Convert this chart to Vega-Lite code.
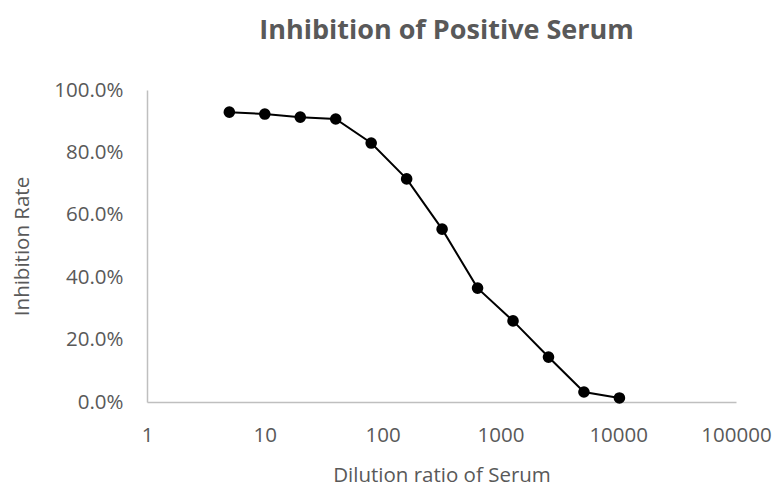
{
  "$schema": "https://vega.github.io/schema/vega-lite/v6.json",
  "autosize": "none",
  "width": 589,
  "height": 312,
  "padding": {"left": 147, "top": 90, "right": 38, "bottom": 86},
  "background": "white",
  "title": {
    "text": "Inhibition of Positive Serum",
    "font": "Open Sans",
    "fontSize": 27,
    "fontWeight": "bold",
    "color": "#595959",
    "offset": 35,
    "anchor": "middle",
    "dx": 5
  },
  "config": {
    "view": {"stroke": null},
    "font": "Open Sans"
  },
  "data": {
    "values": [
      {"dilution": 5, "rate": 0.929},
      {"dilution": 10, "rate": 0.923},
      {"dilution": 20, "rate": 0.913},
      {"dilution": 40, "rate": 0.907},
      {"dilution": 80, "rate": 0.830},
      {"dilution": 160, "rate": 0.715},
      {"dilution": 320, "rate": 0.554},
      {"dilution": 640, "rate": 0.365},
      {"dilution": 1280, "rate": 0.260},
      {"dilution": 2560, "rate": 0.144},
      {"dilution": 5120, "rate": 0.032},
      {"dilution": 10240, "rate": 0.013}
    ]
  },
  "encoding": {
    "x": {
      "field": "dilution",
      "type": "quantitative",
      "scale": {"type": "log", "domain": [1, 100000], "nice": false},
      "axis": {
        "title": "Dilution ratio of Serum",
        "values": [1, 10, 100, 1000, 10000, 100000],
        "format": "d",
        "grid": false,
        "ticks": false,
        "tickSize": 0,
        "domainColor": "#bfbfbf",
        "domainWidth": 1.5,
        "labelFont": "Open Sans",
        "labelFontSize": 20.5,
        "labelColor": "#595959",
        "labelPadding": 23,
        "labelFlush": false,
        "labelOverlap": false,
        "titleFont": "Open Sans",
        "titleFontSize": 20.5,
        "titleFontWeight": "normal",
        "titleColor": "#595959",
        "titlePadding": 20
      }
    },
    "y": {
      "field": "rate",
      "type": "quantitative",
      "scale": {"domain": [0, 1], "nice": false},
      "axis": {
        "title": "Inhibition Rate",
        "values": [0, 0.2, 0.4, 0.6, 0.8, 1.0],
        "format": ".1%",
        "grid": false,
        "ticks": false,
        "tickSize": 0,
        "domainColor": "#bfbfbf",
        "domainWidth": 1.5,
        "labelFont": "Open Sans",
        "labelFontSize": 20.5,
        "labelColor": "#595959",
        "labelPadding": 24,
        "labelFlush": false,
        "titleFont": "Open Sans",
        "titleFontSize": 20.5,
        "titleFontWeight": "normal",
        "titleColor": "#595959",
        "titlePadding": 21
      }
    }
  },
  "layer": [
    {"mark": {"type": "line", "color": "black", "strokeWidth": 2}},
    {"mark": {"type": "point", "filled": true, "color": "black", "opacity": 1, "size": 135}}
  ]
}
